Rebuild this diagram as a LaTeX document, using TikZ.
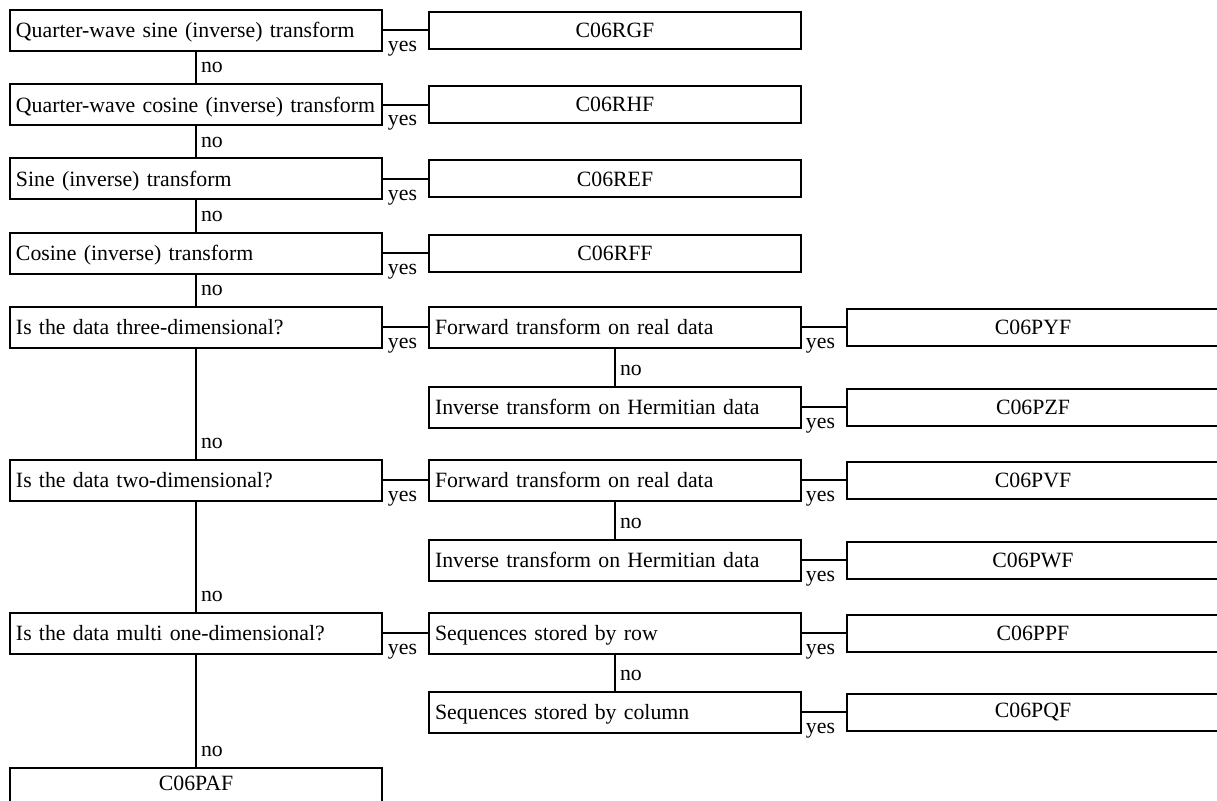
\documentclass[tikz,border=0pt]{standalone}
\usepackage{fontspec}
\setmainfont{Liberation Serif}[WordSpace=1.7]
\usetikzlibrary{positioning}

\begin{document}
\begin{tikzpicture}[x=0.5pt,y=-0.5pt,
    every node/.style={font=\fontsize{10.9}{13}\selectfont},
    askbox/.style={draw, line width=1pt, rectangle, text width=180pt, align=left,
      inner xsep=3pt, inner ysep=0pt, minimum height=20.5pt,
      text height=9pt, text depth=1.5pt},
    callbox/.style={draw, line width=1pt, rectangle, minimum width=186pt,
      minimum height=18.5pt, inner sep=0pt, align=center},
    link/.style={line width=1pt},
    nolabel/.style={pos=1, anchor=south west, inner sep=0pt, xshift=2pt, yshift=4.5pt},
    yeslabel/.style={pos=1, anchor=north east, inner sep=0pt, xshift=-5pt, yshift=-5pt}]

  \useasboundingbox (0,0) rectangle (1217,801);

  % questions, first column
  \node[askbox, anchor=north west] (qws) at (9,9) {Quarter-wave sine (inverse) transform};
  \node[askbox, below=15.6pt of qws] (qwc) {Quarter-wave cosine (inverse) transform};
  \node[askbox, below=15.6pt of qwc] (sin) {Sine (inverse) transform};
  \node[askbox, below=15.6pt of sin] (cos) {Cosine (inverse) transform};
  \node[askbox, below=15.6pt of cos] (dthree) {Is the data three-dimensional?};
  \node[askbox, below=55pt of dthree] (dtwo) {Is the data two-dimensional?};
  \node[askbox, below=55pt of dtwo] (dmulti) {Is the data multi one-dimensional?};
  \node[callbox, minimum height=20.5pt, text height=7pt, text depth=5pt,
    below=56pt of dmulti] (paf) {C06PAF};

  % questions, second column
  \node[askbox, right=22.5pt of dthree] (fwdthree) {Forward transform on real data};
  \node[askbox, below=18.5pt of fwdthree] (invthree) {Inverse transform on Hermitian data};
  \node[askbox, right=22.5pt of dtwo] (fwdtwo) {Forward transform on real data};
  \node[askbox, below=18.5pt of fwdtwo] (invtwo) {Inverse transform on Hermitian data};
  \node[askbox, right=22.5pt of dmulti] (byrow) {Sequences stored by row};
  \node[askbox, below=18pt of byrow] (bycol) {Sequences stored by column};

  % routines
  \node[callbox, right=22.5pt of qws] (rgf) {C06RGF};
  \node[callbox, right=22.5pt of qwc] (rhf) {C06RHF};
  \node[callbox, right=22.5pt of sin] (ref) {C06REF};
  \node[callbox, right=22.5pt of cos] (rff) {C06RFF};
  \node[callbox, right=22pt of fwdthree] (pyf) {C06PYF};
  \node[callbox, right=22pt of invthree] (pzf) {C06PZF};
  \node[callbox, right=22pt of fwdtwo] (pvf) {C06PVF};
  \node[callbox, right=22pt of invtwo] (pwf) {C06PWF};
  \node[callbox, right=22pt of byrow] (ppf) {C06PPF};
  \node[callbox, right=22pt of bycol] (pqf) {C06PQF};

  \foreach \a/\b in {qws/qwc, qwc/sin, sin/cos, cos/dthree, dthree/dtwo, dtwo/dmulti,
      dmulti/paf, fwdthree/invthree, fwdtwo/invtwo, byrow/bycol}
    \draw[link] (\a) -- (\b) node[nolabel] {no};
  \foreach \a/\b in {qws/rgf, qwc/rhf, sin/ref, cos/rff, dthree/fwdthree, dtwo/fwdtwo,
      dmulti/byrow, fwdthree/pyf, invthree/pzf, fwdtwo/pvf, invtwo/pwf, byrow/ppf, bycol/pqf}
    \draw[link] (\a) -- (\b) node[yeslabel] {yes};
\end{tikzpicture}
\end{document}
